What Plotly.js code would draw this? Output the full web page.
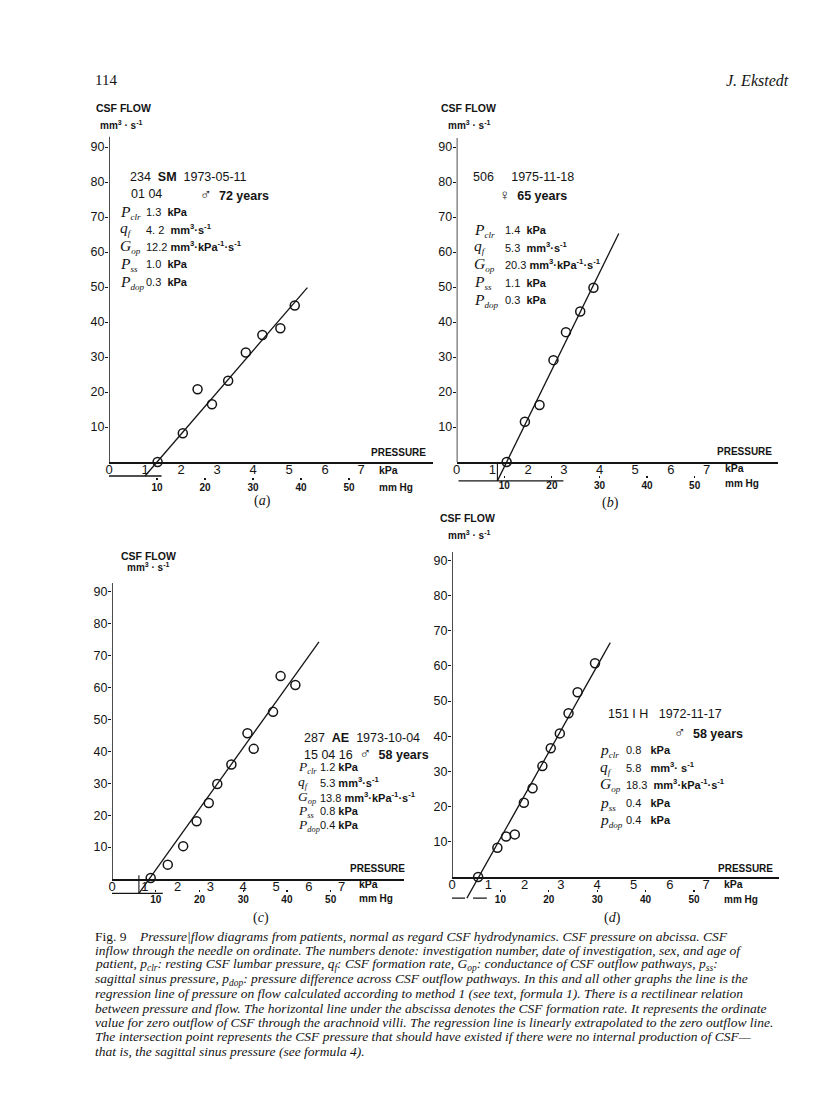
<!DOCTYPE html>
<html><head><meta charset="utf-8">
<script src="https://cdn.plot.ly/plotly-3.0.1.min.js"></script>
<style>html,body{margin:0;padding:0;background:#fff}#fig{width:816px;height:1118px}</style>
</head><body><div id="fig"></div>
<script>
// ---------- DATA ----------
const kpaTicks = [0,1,2,3,4,5,6,7];
const mmHgTicks = [10,20,30,40,50];
const flowTicks = [10,20,30,40,50,60,70,80,90];
const KPA_PER_MMHG = 1/7.50062;

// panel (a)
const ptsA_x = [1.35,2.05,2.46,2.86,3.31,3.80,4.26,4.76,5.16];
const ptsA_y = [0,8.2,20.8,16.5,23.2,31.3,36.3,38.2,44.7];
const regA_x = [1.0,5.51], regA_y = [-4.0,49.8];
const formA_x = [0,1.46], formA_y = [-4.0,-4.0];
const dropA_x = [], dropA_y = [];
// panel (b)
const ptsB_x = [1.40,1.91,2.32,2.71,3.06,3.46,3.83];
const ptsB_y = [0,11.5,16.3,29.1,37.1,43.0,49.8];
const regB_x = [1.14,4.54], regB_y = [-5.4,65.3];
const formB_x = [0.05,2.99], formB_y = [-5.4,-5.4];
const dropB_x = [1.14,1.14], dropB_y = [0,-5.4];
// panel (c)
const ptsC_x = [1.18,1.70,2.17,2.58,2.95,3.21,3.64,4.13,4.32,4.91,5.14,5.59];
const ptsC_y = [0.3,4.5,10.3,18.1,23.8,29.8,35.9,45.7,40.8,52.4,63.6,60.8];
const regC_x = [0.82,6.31], regC_y = [-4.5,74.3];
const formC_x = [0,1.55], formC_y = [-4.5,-4.5];
const dropC_x = [0.82,0.82], dropC_y = [1.2,-4.5];
// panel (d)
const ptsD_x = [0.72,1.25,1.49,1.73,1.98,2.22,2.49,2.72,2.97,3.21,3.46,3.94];
const ptsD_y = [0,8.3,11.5,12.1,21.1,25.2,31.5,36.6,40.8,46.5,52.5,60.7];
const regD_x = [0.41,4.36], regD_y = [-6.0,66.6];
const formD_x = [0,0.36,null,0.58,0.96], formD_y = [-6.0,-6.0,null,-6.0,-6.0];
const dropD_x = [], dropD_y = [];

// texts
const MALE = '<span style="font-size:16px">\u2642</span>', FEMALE = '<span style="font-size:15px">\u2640</span>';
const symUpper = ['P','q','G','P','P'], symLower = ['p','q','G','p','p'];
const symSub = ['clr','f','op','ss','dop'];
const headA = ['234\u00a0\u00a0<b>SM</b>\u00a0\u00a01973-05-11','01 04', MALE + '\u00a0\u00a0<b>72 years</b>'];
const valsA = ['1.3\u00a0\u00a0<b>kPa</b>','4.\u00a02\u00a0\u00a0<b>mm<sup>3</sup>·s<sup>-1</sup></b>','12.2\u00a0<b>mm<sup>3</sup>·kPa<sup>-1</sup>·s<sup>-1</sup></b>','1.0\u00a0\u00a0<b>kPa</b>','0.3\u00a0\u00a0<b>kPa</b>'];
const headB = ['506\u00a0\u00a0\u00a0\u00a0\u00a01975-11-18', FEMALE + '\u00a0\u00a0<b>65 years</b>'];
const valsB = ['1.4\u00a0\u00a0<b>kPa</b>','5.3\u00a0\u00a0<b>mm<sup>3</sup>·s<sup>-1</sup></b>','20.3\u00a0<b>mm<sup>3</sup>·kPa<sup>-1</sup>·s<sup>-1</sup></b>','1.1\u00a0\u00a0<b>kPa</b>','0.3\u00a0\u00a0<b>kPa</b>'];
const headC = ['287\u00a0\u00a0<b>AE</b>\u00a0\u00a01973-10-04','15 04 16\u00a0\u00a0' + MALE + '\u00a0\u00a0<b>58 years</b>'];
const valsC = ['1.2\u00a0<b>kPa</b>','5.3\u00a0<b>mm<sup>3</sup>·s<sup>-1</sup></b>','13.8\u00a0<b>mm<sup>3</sup>·kPa<sup>-1</sup>·s<sup>-1</sup></b>','0.8\u00a0<b>kPa</b>','0.4\u00a0<b>kPa</b>'];
const headD = ['151\u00a0I\u00a0H\u00a0\u00a0\u00a01972-11-17', MALE + '\u00a0\u00a0<b>58 years</b>'];
const valsD = ['0.8\u00a0\u00a0\u00a0<b>kPa</b>','5.8\u00a0\u00a0\u00a0<b>mm<sup>3</sup>· s<sup>-1</sup></b>','18.3\u00a0\u00a0<b>mm<sup>3</sup>·kPa<sup>-1</sup>·s<sup>-1</sup></b>','0.4\u00a0\u00a0\u00a0<b>kPa</b>','0.4\u00a0\u00a0\u00a0<b>kPa</b>'];
const panelLetters = ['(<i>a</i>)','(<i>b</i>)','(<i>c</i>)','(<i>d</i>)'];
const yTitle1 = 'CSF FLOW', yTitle2 = 'mm<sup>3</sup> · s<sup>-1</sup>';
const xTitle = 'PRESSURE', unitKpa = 'kPa', unitMm = 'mm Hg';
const pageNo = '114', author = '<i>J. Ekstedt</i>';
const caption = [
 'Fig. 9\u00a0\u00a0\u00a0\u00a0<i>Pressure|flow diagrams from patients, normal as regard CSF hydrodynamics. CSF pressure on abcissa. CSF</i>',
 '<i>inflow through the needle on ordinate. The numbers denote: investigation number, date of investigation, sex, and age of</i>',
 '<i>patient, p<sub>clr</sub>: resting CSF lumbar pressure, q<sub>f</sub>: CSF formation rate, G<sub>op</sub>: conductance of CSF outflow pathways, p<sub>ss</sub>:</i>',
 '<i>sagittal sinus pressure, p<sub>dop</sub>: pressure difference across CSF outflow pathways. In this and all other graphs the line is the</i>',
 '<i>regression line of pressure on flow calculated according to method 1 (see text, formula 1). There is a rectilinear relation</i>',
 '<i>between pressure and flow. The horizontal line under the abscissa denotes the CSF formation rate. It represents the ordinate</i>',
 '<i>value for zero outflow of CSF through the arachnoid villi. The regression line is linearly extrapolated to the zero outflow line.</i>',
 '<i>The intersection point represents the CSF pressure that should have existed if there were no internal production of CSF\u2014</i>',
 '<i>that is, the sagittal sinus pressure (see formula 4).</i>'
];

// ---------- LAYOUT GEOMETRY ----------
const W = 816, H = 1118;
const fx = p => p / W, fy = p => 1 - p / H;
const INK = '#141414';
const SANS = 'Liberation Sans, Arial, sans-serif';
const SERIF = 'Liberation Serif, Times New Roman, serif';

const panels = [
 {pts:[ptsA_x,ptsA_y], reg:[regA_x,regA_y], form:[formA_x,formA_y], drop:[dropA_x,dropA_y],
  px0:109, sx:36, py0:462, sy:3.5, xmax:9.0, ymax:93, mmY:480,
  head:headA, headPos:[[128,177],[129,194],[198,194]], syms:symUpper, vals:valsA, symBig:15.5, symBase:13,
  labX:118, valX:144, rowY:[212,229,246,264,282],
  t1:[124,108], t2:[121,125], pres:[398,453], kpa:[377,470], mm:[377,487], letter:[262,501]},
 {pts:[ptsB_x,ptsB_y], reg:[regB_x,regB_y], form:[formB_x,formB_y], drop:[dropB_x,dropB_y],
  px0:456.7, sx:35.7, py0:462, sy:3.5, xmax:9.0, ymax:92.6, mmY:478,
  head:headB, headPos:[[471,177],[497,194]], syms:symUpper, vals:valsB, symBig:15.5, symBase:13,
  labX:472, valX:503, rowY:[230,247,264,283,300],
  t1:[469,108], t2:[469,125], pres:[744,451], kpa:[723,468], mm:[723,484], letter:[610,503]},
 {pts:[ptsC_x,ptsC_y], reg:[regC_x,regC_y], form:[formC_x,formC_y], drop:[dropC_x,dropC_y],
  px0:112, sx:32.8, py0:879, sy:3.19, xmax:8.9, ymax:92.8, mmY:892,
  head:headC, headPos:[[302,738],[302,753]], syms:symUpper, vals:valsC, symBig:13.5, symBase:12,
  labX:296, valX:318, rowY:[767,782,797,811,825],
  t1:[148,556], t2:[148,567], pres:[377,868], kpa:[357,884], mm:[357,898], letter:[261,918]},
 {pts:[ptsD_x,ptsD_y], reg:[regD_x,regD_y], form:[formD_x,formD_y], drop:[dropD_x,dropD_y],
  px0:452, sx:36.3, py0:877, sy:3.52, xmax:9.0, ymax:92.3, mmY:892,
  head:headD, headPos:[[606,714],[672,732]], syms:symLower, vals:valsD, symBig:15.5, symBase:13,
  labX:598, valX:624, rowY:[750,767,784,803,820],
  t1:[467,518], t2:[469,535], pres:[745,868], kpa:[722,884], mm:[722,899], letter:[612,918]}
];
const YMIN = -8;

const traces = [], shapes = [], annotations = [];
const layout = {width:W, height:H, margin:{l:0,r:0,t:0,b:0}, paper_bgcolor:'#fff', plot_bgcolor:'rgba(0,0,0,0)',
  showlegend:false, font:{family:SANS, color:INK}};

function ann(text, px, py, opt) {
  annotations.push(Object.assign({text, xref:'paper', yref:'paper', x:fx(px), y:fy(py),
    xanchor:'left', yanchor:'middle', showarrow:false, font:{family:SANS, size:12, color:INK}}, opt||{}));
}

panels.forEach((p, i) => {
  const n = i + 1, xn = n === 1 ? '' : n, yn = xn;
  const xa = 'x' + xn, ya = 'y' + yn, mmAx = 'x' + (n + 4);
  const left = p.px0, right = p.px0 + p.xmax * p.sx;
  const top = p.py0 - p.ymax * p.sy, bottom = p.py0 - YMIN * p.sy;
  layout['xaxis' + xn] = {domain:[fx(left), fx(right)], range:[0, p.xmax], anchor:'free', position:fy(p.py0),
    showline:true, linewidth:1.5, linecolor:INK, ticks:'', tickvals:kpaTicks, ticktext:kpaTicks.map(String),
    ticklabelstandoff:-5,
    tickfont:{family:SANS, size:13, color:INK}, showgrid:false, zeroline:false, fixedrange:true};
  layout['yaxis' + yn] = {domain:[fy(bottom), fy(top)], range:[YMIN, p.ymax], anchor:xa,
    showline:false, ticks:'outside', ticklen:3, tickwidth:1, tickcolor:INK, tickvals:flowTicks,
    ticklabelstandoff:-2,
    tickfont:{family:SANS, size:12.5, color:INK}, showgrid:false, zeroline:false, fixedrange:true};
  layout['xaxis' + (n + 4)] = {overlaying:xa, anchor:'free', position:fy(p.mmY), range:[0, p.xmax / KPA_PER_MMHG],
    showline:false, ticks:'inside', ticklen:2, tickwidth:1.2, tickcolor:INK, tickvals:mmHgTicks,
    tickfont:{family:SANS, size:10, color:INK, weight:'bold'}, showgrid:false, zeroline:false, fixedrange:true};
  traces.push({x:[], y:[], xaxis:mmAx, yaxis:ya, type:'scatter', mode:'markers', hoverinfo:'skip'});
  shapes.push({type:'line', xref:xa, yref:ya, x0:0, x1:0, y0:0, y1:p.ymax, line:{color:INK, width:1.5}});
  traces.push({x:p.form[0], y:p.form[1], xaxis:xa, yaxis:ya, type:'scatter', mode:'lines', connectgaps:false,
    line:{color:INK, width:1.3}, hoverinfo:'skip'});
  if (p.drop[0].length) traces.push({x:p.drop[0], y:p.drop[1], xaxis:xa, yaxis:ya, type:'scatter', mode:'lines',
    line:{color:INK, width:1.1}, hoverinfo:'skip'});
  traces.push({x:p.reg[0], y:p.reg[1], xaxis:xa, yaxis:ya, type:'scatter', mode:'lines',
    line:{color:INK, width:1.3}, hoverinfo:'skip'});
  traces.push({x:p.pts[0], y:p.pts[1], xaxis:xa, yaxis:ya, type:'scatter', mode:'markers',
    marker:{symbol:'circle-open', size:9, color:INK, line:{width:1.5, color:INK}}, hoverinfo:'skip', cliponaxis:false});
  ann('<b>' + yTitle1 + '</b>', p.t1[0], p.t1[1], {xanchor:'center', font:{family:SANS, size:10.5, color:INK}});
  ann('<b>' + yTitle2 + '</b>', p.t2[0], p.t2[1], {xanchor:'center', font:{family:SANS, size:10, color:INK}});
  ann('<b>' + xTitle + '</b>', p.pres[0], p.pres[1], {xanchor:'center', font:{family:SANS, size:10, color:INK}});
  ann('<b>' + unitKpa + '</b>', p.kpa[0], p.kpa[1], {font:{family:SANS, size:10.5, color:INK}});
  ann('<b>' + unitMm + '</b>', p.mm[0], p.mm[1], {font:{family:SANS, size:10, color:INK}});
  ann(panelLetters[i], p.letter[0], p.letter[1], {xanchor:'center', font:{family:SERIF, size:14, color:INK}});
  p.head.forEach((t, k) => ann(t, p.headPos[k][0], p.headPos[k][1], {font:{family:SANS, size:12.5, color:INK}}));
  p.syms.forEach((s, k) => ann('<i><span style="font-size:' + p.symBig + 'px">' + s + '</span><sub>' + symSub[k] + '</sub></i>',
    p.labX, p.rowY[k], {font:{family:SERIF, size:p.symBase, color:INK}}));
  p.vals.forEach((t, k) => ann(t, p.valX, p.rowY[k], {font:{family:SANS, size:11, color:INK}}));
});

ann(pageNo, 93, 80, {font:{family:SERIF, size:15, color:INK}});
ann(author, 724, 80, {font:{family:SERIF, size:16, color:INK}});
caption.forEach((t, k) => ann(t, 93, 936 + 14.4 * k, {font:{family:SERIF, size:13.5, color:INK}}));

layout.shapes = shapes;
layout.annotations = annotations;
Plotly.newPlot('fig', traces, layout, {staticPlot:true, displayModeBar:false});
</script></body></html>
